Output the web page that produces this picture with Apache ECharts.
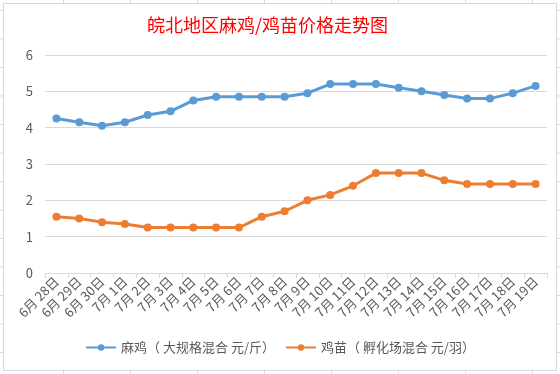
<!DOCTYPE html>
<html>
<head>
<meta charset="utf-8">
<script src="https://cdn.jsdelivr.net/npm/echarts@6/dist/echarts.min.js"></script>
<style>
html,body{margin:0;padding:0;background:#fff;}
#wrap{position:absolute;left:0;top:0;width:560px;height:374px;
background-image:linear-gradient(#d9d9d9 1px,transparent 1px),linear-gradient(90deg,#d9d9d9 1px,transparent 1px);
background-size:67px 28.5px;background-position:-4px 10px;}
#chart{position:absolute;left:3px;top:3px;width:552px;height:366px;background:#fff;border:1px solid #d9d9d9;}
</style>
</head>
<body>
<div id="wrap"><div id="chart"></div></div>
<script>
const categories = ['6月 28日','6月 29日','6月 30日','7月 1日','7月 2日','7月 3日','7月 4日','7月 5日','7月 6日','7月 7日','7月 8日','7月 9日','7月 10日','7月 11日','7月 12日','7月 13日','7月 14日','7月 15日','7月 16日','7月 17日','7月 18日','7月 19日'];
const maji = [4.25,4.15,4.05,4.15,4.35,4.45,4.75,4.85,4.85,4.85,4.85,4.95,5.2,5.2,5.2,5.1,5.0,4.9,4.8,4.8,4.95,5.15];
const jimiao = [1.55,1.5,1.4,1.35,1.25,1.25,1.25,1.25,1.25,1.55,1.7,2.0,2.15,2.4,2.75,2.75,2.75,2.55,2.45,2.45,2.45,2.45];
const seriesNames = ['麻鸡（ 大规格混合 元/斤）','鸡苗（ 孵化场混合 元/羽）'];
const yTicks = [0,1,2,3,4,5,6];

const chart = echarts.init(document.getElementById('chart'));
const font = '"Microsoft YaHei","Noto Sans CJK SC",sans-serif';
chart.setOption({
  animation:false,
  title:{text:'皖北地区麻鸡/鸡苗价格走势图',left:138,top:7,
    textStyle:{color:'#ff0000',fontSize:18,fontWeight:'normal',fontFamily:'"Noto Sans CJK SC",sans-serif'}},
  grid:{left:41,right:9,top:51,bottom:97},
  legend:{bottom:11,left:'center',itemWidth:30,itemHeight:8,itemGap:10,
    textStyle:{color:'#595959',fontSize:13,fontFamily:font},
    data:seriesNames},
  xAxis:{type:'category',data:categories,boundaryGap:true,
    axisLine:{lineStyle:{color:'#d9d9d9'}},
    axisTick:{show:true,length:5,lineStyle:{color:'#d9d9d9'}},
    axisLabel:{rotate:45,color:'#595959',fontSize:13,interval:0,fontFamily:font,margin:6}},
  yAxis:{type:'value',min:yTicks[0],max:yTicks[yTicks.length-1],interval:1,
    axisLine:{show:false},axisTick:{show:false},
    splitLine:{lineStyle:{color:'#d9d9d9'}},
    axisLabel:{color:'#595959',fontSize:13,margin:12,fontFamily:font}},
  series:[
    {name:seriesNames[0],type:'line',data:maji,symbol:'circle',symbolSize:8,
     itemStyle:{color:'#5b9bd5'},lineStyle:{color:'#5b9bd5',width:3}},
    {name:seriesNames[1],type:'line',data:jimiao,symbol:'circle',symbolSize:8,
     itemStyle:{color:'#ed7d31'},lineStyle:{color:'#ed7d31',width:3}}
  ]
});
</script>
</body>
</html>
